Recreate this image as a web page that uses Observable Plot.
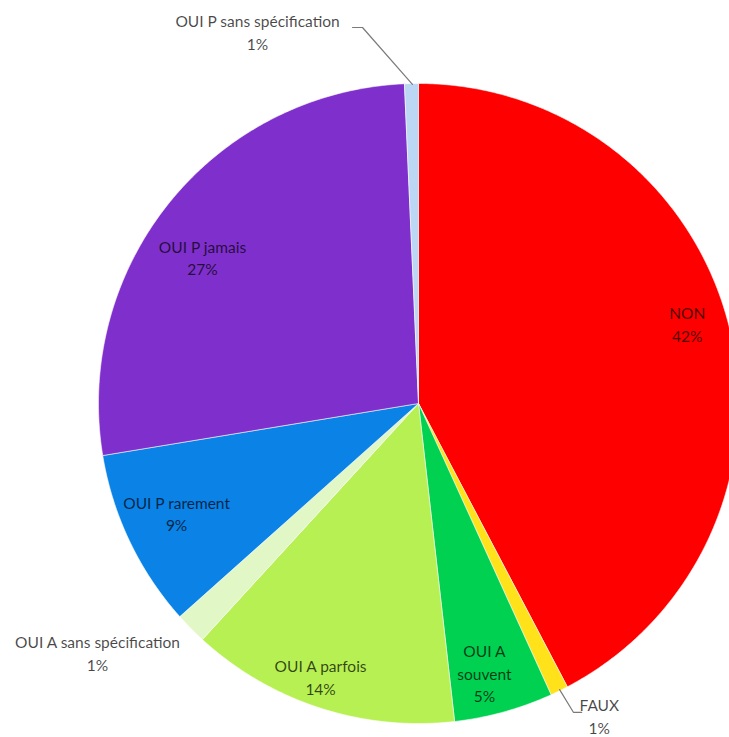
<!DOCTYPE html>
<html>
<head>
<meta charset="utf-8">
<script src="https://cdn.jsdelivr.net/npm/d3@7"></script>
<script src="https://cdn.jsdelivr.net/npm/@observablehq/plot@0.6"></script>
<style>
  html, body { margin: 0; padding: 0; background: white; overflow: hidden; }
  #chart { width: 729px; height: 737px; }
</style>
</head>
<body>
<div id="chart"></div>
<script>
// ---- data ----
const categories = ["NON", "FAUX", "OUI A souvent", "OUI A parfois", "OUI A sans spécification", "OUI P rarement", "OUI P jamais", "OUI P sans spécification"];
const values = [42.3, 0.9, 5.0, 13.6, 1.6, 9.0, 26.9, 0.7];
const pctLabels = ["42%", "1%", "5%", "14%", "1%", "9%", "27%", "1%"];
const labelNames = ["NON", "FAUX", "OUI A\nsouvent", "OUI A parfois", "OUI A sans spécification", "OUI P rarement", "OUI P jamais", "OUI P sans spécification"];

// ---- styles / layout ----
const colors = ["#ff0000", "#ffe21a", "#00d150", "#b6f052", "#e2f7c6", "#0a82e6", "#7f2fcb", "#bcd7f3"];
// label anchor positions in pie units (center 0,0 ; radius 1)
const labelPos = [[0.84, 0.25], [0.565, -0.975], [0.206, -0.84], [-0.306, -0.853], [-1.003, -0.778], [-0.756, -0.341], [-0.675, 0.459], [-0.503, 1.1625]];
const leaders = [
  {id: "faux", pts: [[0.441, -0.894], [0.484, -0.965], [0.51, -0.965]]},
  {id: "psans", pts: [[-0.206, 1.175], [-0.175, 1.175], [-0.019, 0.997]]}
];

const pie = d3.pie().sort(null).value(d => d)(values);
const slicePts = [];
pie.forEach((p, i) => {
  const a0 = p.startAngle, a1 = p.endAngle;
  const n = Math.max(2, Math.ceil((a1 - a0) / (Math.PI / 360)));
  slicePts.push({name: categories[i], u: 0, v: 0});
  for (let k = 0; k <= n; k++) {
    const a = a0 + (a1 - a0) * k / n;
    slicePts.push({name: categories[i], u: Math.sin(a), v: Math.cos(a)});
  }
  slicePts.push({name: categories[i], u: 0, v: 0});
});

const labels = categories.map((c, i) => ({name: c, text: labelNames[i] + "\n" + pctLabels[i], u: labelPos[i][0], v: labelPos[i][1]}));
const leaderPts = leaders.flatMap(l => l.pts.map(([u, v]) => ({id: l.id, u, v})));

const chart = Plot.plot({
  width: 729,
  height: 737,
  margin: 0,
  x: {domain: [-1, 1], range: [98, 738], axis: null},
  y: {domain: [-1, 1], range: [723, 83], axis: null},
  color: {domain: categories, range: colors},
  style: {fontFamily: "Lato, 'Open Sans', sans-serif", background: "white"},
  marks: [
    Plot.line(slicePts, {x: "u", y: "v", z: "name", fill: "name", stroke: "white", strokeWidth: 0.8, strokeOpacity: 0.7, clip: "frame"}),
    Plot.line(leaderPts, {x: "u", y: "v", z: "id", stroke: "#7a7a7a", strokeWidth: 1.2}),
    Plot.text(labels, {x: "u", y: "v", text: "text", fill: "black", fillOpacity: 0.72, fontSize: 15.5, lineHeight: 1.45, textAnchor: "middle"})
  ]
});
document.getElementById("chart").appendChild(chart);
</script>
</body>
</html>
